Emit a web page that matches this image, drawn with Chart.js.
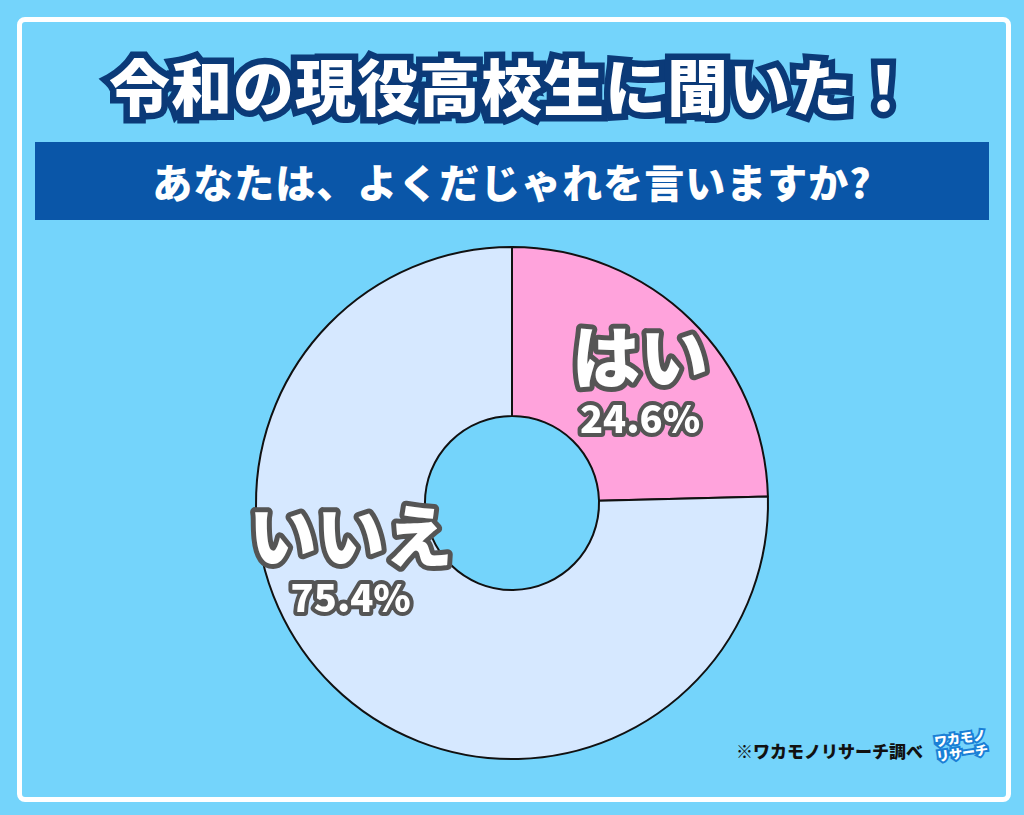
<!DOCTYPE html>
<html><head><meta charset="utf-8">
<script src="https://cdn.jsdelivr.net/npm/chart.js@4"></script>
<style>
body{margin:0;width:1024px;height:815px;background:#74d4fb;position:relative;overflow:hidden;font-family:"Noto Sans CJK JP",sans-serif}
#frame{position:absolute;left:17px;top:17px;width:984px;height:775px;border:5px solid #fff;border-radius:8px}
#title{position:absolute;left:0;right:0;top:40px;text-align:center;font-size:61px;font-weight:900;color:#fff;-webkit-text-stroke:13px #0b3a78;paint-order:stroke fill;letter-spacing:1px}
#banner{position:absolute;left:35px;top:142px;width:954px;height:78px;background:#0a56a8;color:#fff;font-size:40px;font-weight:900;text-align:center;line-height:78px;letter-spacing:1px}
#note{position:absolute;left:736px;top:738px;font-size:17px;font-weight:900;color:#111}
#logo{position:absolute;left:935px;top:730px;font-size:13px;font-weight:900;color:#fff;-webkit-text-stroke:4px #1a7fd6;paint-order:stroke fill;line-height:15px;transform:rotate(-8deg)}
canvas{position:absolute;left:0;top:0}
</style></head><body>
<div id="frame"></div>
<div id="title">令和の現役高校生に聞いた！</div>
<div id="banner">あなたは、よくだじゃれを言いますか?</div>
<div id="note">※ワカモノリサーチ調べ</div>
<div id="logo">ワカモノ<br>リサーチ</div>
<canvas id="c" width="1024" height="815"></canvas>
<script>
const categories=["はい","いいえ"];
const values=[24.6,75.4];
const colors=["#ffa3dc","#d6e8ff"];
const labelPos=[[0.50,-0.47],[-0.63,0.23]];
const labelPlugin={id:"lbl",afterDatasetsDraw(ch){
 const ctx=ch.ctx,a=ch.getDatasetMeta(0).data[0];
 const cx=a.x,cy=a.y,r=a.outerRadius;
 ctx.save();ctx.textAlign="center";ctx.lineJoin="round";
 categories.forEach((c,i)=>{
  const x=cx+labelPos[i][0]*r,y=cy+labelPos[i][1]*r;
  ctx.font='900 68px "Noto Sans CJK JP"';ctx.textBaseline="alphabetic";
  ctx.lineWidth=10;ctx.strokeStyle="#555";ctx.strokeText(c,x,y);ctx.fillStyle="#fff";ctx.fillText(c,x,y);
  ctx.font='900 38px "Noto Sans CJK JP"';
  const t=values[i].toFixed(1)+"%";
  ctx.lineWidth=8;ctx.strokeText(t,x,y+50);ctx.fillText(t,x,y+50);
 });ctx.restore();}};
new Chart(document.getElementById("c"),{type:"doughnut",
 data:{labels:categories,datasets:[{data:values,backgroundColor:colors,borderColor:"#111",borderWidth:2}]},
 options:{responsive:false,animation:false,cutout:"34%",
  layout:{padding:{top:246,bottom:55,left:255,right:255}},
  plugins:{legend:{display:false},tooltip:{enabled:false}}},
 plugins:[labelPlugin]});
</script></body></html>
